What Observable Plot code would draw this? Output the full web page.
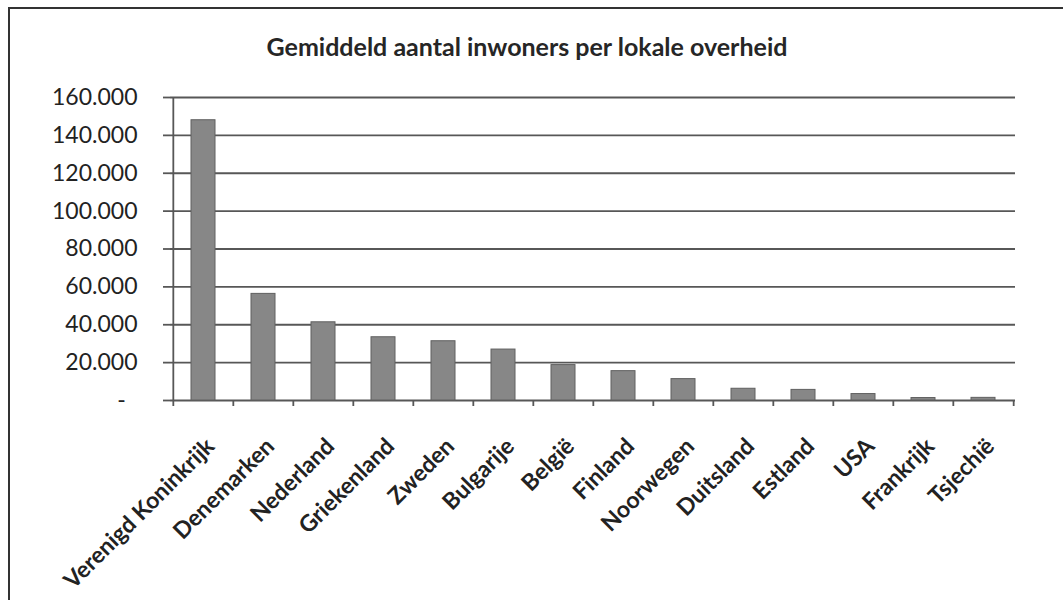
<!DOCTYPE html>
<html>
<head>
<meta charset="utf-8">
<script src="https://cdn.jsdelivr.net/npm/d3@7"></script>
<script src="https://cdn.jsdelivr.net/npm/@observablehq/plot@0.6"></script>
<style>
  html, body { margin: 0; padding: 0; background: #fff; }
  #wrap { position: relative; width: 1063px; height: 600px; overflow: hidden; background: #fff; }
  #border { position: absolute; left: 8px; top: 7px; width: 1100px; height: 700px;
            border-left: 2px solid #333; border-top: 2px solid #333; box-sizing: border-box; }
  #title { position: absolute; left: 0; width: 1054px; top: 31px; text-align: center;
           font-family: Lato, "Open Sans", sans-serif; font-weight: bold; font-size: 25px; color: #262626; }
  svg { position: absolute; left: 0; top: 0; }
</style>
</head>
<body>
<div id="wrap">
  <div id="border"></div>
  <div id="title">Gemiddeld aantal inwoners per lokale overheid</div>
</div>
<script>
const countries = ["Verenigd Koninkrijk", "Denemarken", "Nederland", "Griekenland", "Zweden", "Bulgarije",
  "België", "Finland", "Noorwegen", "Duitsland", "Estland", "USA", "Frankrijk", "Tsjechië"];
const inwoners = [148000, 56300, 41300, 33400, 31300, 26900, 18700, 15500, 11300, 6200, 5600, 3400, 1300, 1400];
const yTicks = [0, 20000, 40000, 60000, 80000, 100000, 120000, 140000, 160000];

const data = countries.map((c, i) => ({land: c, waarde: inwoners[i]}));
const nl = d3.formatLocale({decimal: ",", thousands: ".", grouping: [3], currency: ["€", ""]});
const fmt = nl.format(",");

const W = 1063, H = 600, mL = 170, mR = 48, mT = 97, mB = 200;
const bw = (W - mL - mR) / countries.length;
const gridColor = "#575757";

const plot = Plot.plot({
  width: W, height: H,
  marginLeft: mL, marginRight: mR, marginTop: mT, marginBottom: mB,
  style: {fontFamily: "Lato, 'Open Sans', sans-serif", background: "transparent", color: "#222"},
  x: {domain: countries, paddingInner: 0.6, paddingOuter: 0.3, align: 0.5, label: null},
  y: {domain: [0, 160000], label: null},
  marks: [
    Plot.ruleY(yTicks, {stroke: gridColor, strokeWidth: 1.8}),
    Plot.ruleX([countries[0]], {dx: -bw / 2, stroke: gridColor, strokeWidth: 1.8}),
    Plot.barY(data, {x: "land", y: "waarde", fill: "#878787", stroke: "#606060", strokeWidth: 1}),
    Plot.axisY({ticks: yTicks, tickSize: 7, tickPadding: 26, stroke: gridColor, strokeWidth: 1.8,
      fontSize: 23, tickFormat: d => d === 0 ? "-\u00a0\u00a0" : fmt(d), label: null}),
    Plot.axisX({tickSize: 6, stroke: gridColor, strokeWidth: 1.8, dx: -bw / 2, tickFormat: () => "", label: null}),
    Plot.axisX([countries[countries.length - 1]], {tickSize: 6, stroke: gridColor, strokeWidth: 1.8, dx: bw / 2, tickFormat: () => "", label: null}),
    Plot.axisX({tickSize: 0, tickPadding: 0, tickRotate: -45, fontSize: 23, fontWeight: "bold",
      dx: 7, dy: 42, label: null})
  ]
});
document.getElementById("wrap").appendChild(plot);
</script>
</body>
</html>
